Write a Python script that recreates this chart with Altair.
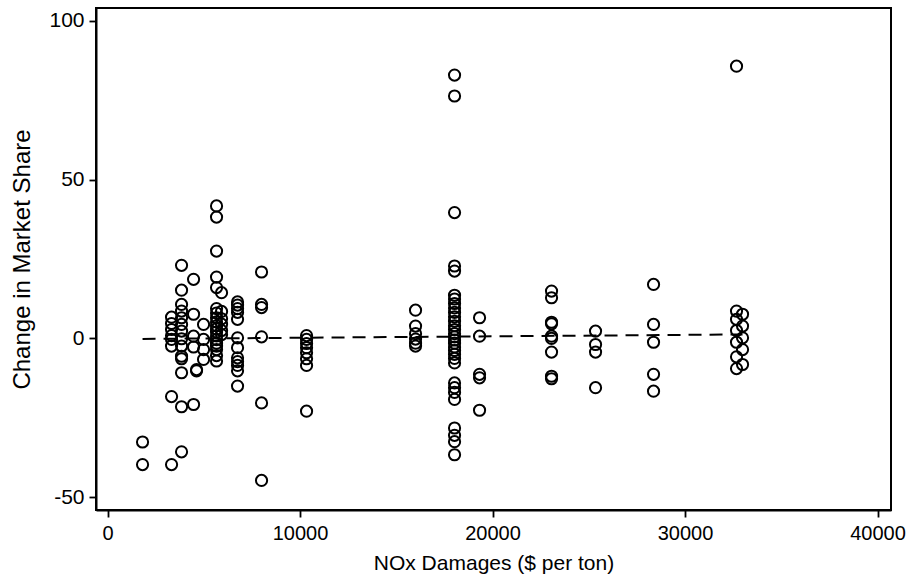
import altair as alt
import pandas as pd

# NOx damages ($ per ton) for each group of plants
damage_levels = [1818, 3325, 3844, 4468, 4623, 4987, 5662, 5922, 6753, 8000,
                 10338, 16000, 18026, 19325, 23065, 25351, 28364, 32675, 32987]

# Change in market share observed at each damage level
share_changes = [
    [-32.6, -39.7],
    [6.7, 4.7, 2.8, 0.9, -0.3, -2.4, -18.3, -39.7],
    [23.0, 15.2, 10.7, 8.6, 6.5, 4.4, 2.3, -0.1, -2.4, -5.6, -6.4, -10.8, -21.5, -35.7],
    [18.6, 7.6, 0.7, -2.7, -20.8],
    [-9.8, -10.2],
    [4.4, -0.3, -3.5, -6.6],
    [41.7, 38.2, 27.5, 19.3, 16.0, 9.4, 8.0, 6.5, 5.2, 4.0, 3.0, 2.0, 0.8, -0.4,
     -1.5, -2.4, -3.5, -5.4, -7.1],
    [14.4, 8.5, 6.2, 4.5, 2.5, 1.2],
    [11.5, 10.5, 9.4, 8.2, 6.0, 0.2, -2.9, -6.1, -7.3, -8.5, -10.2, -15.0],
    [20.9, 10.7, 9.7, 0.5, -20.3, -44.7],
    [0.9, -0.3, -1.6, -2.9, -4.5, -6.4, -8.5, -22.9],
    [8.9, 3.9, 1.5, -0.2, -1.5, -2.4],
    [82.9, 76.3, 39.6, 22.8, 21.2, 13.6, 12.4, 11.0, 9.6, 8.2, 6.8, 5.4, 4.0, 2.8,
     1.5, 0.5, -0.5, -1.5, -2.7, -3.8, -5.0, -6.3, -7.7, -14.0, -15.5, -17.0,
     -19.2, -28.2, -30.5, -32.5, -36.6],
    [6.5, 0.7, -11.3, -12.4, -22.6],
    [14.9, 12.8, 5.1, 4.6, 0.7, 0.0, -4.3, -11.9, -12.7],
    [2.3, -1.9, -4.3, -15.5],
    [17.0, 4.4, -1.2, -11.3, -16.6],
    [85.7, 8.6, 6.0, 2.5, -1.2, -5.8, -9.5],
    [7.6, 3.9, 0.2, -3.5, -8.2],
]

# Fitted linear trend (endpoints)
fit_x = [1818, 32987]
fit_y = [-0.15, 1.25]

points = pd.DataFrame(
    [(x, y) for x, ys in zip(damage_levels, share_changes) for y in ys],
    columns=["damages", "share"],
)
fit = pd.DataFrame({"damages": fit_x, "share": fit_y})

FONT = "Liberation Sans"
# plain hyphen for negative tick labels
PLAIN = "datum.value < 0 ? '-' + abs(datum.value) : '' + datum.value"

x_scale = alt.Scale(domain=[-600, 40700], nice=False, zero=False)
y_scale = alt.Scale(domain=[-54, 104], nice=False, zero=False)

x_axis = alt.Axis(
    title="NOx Damages ($ per ton)", values=[0, 10000, 20000, 30000, 40000],
    labelExpr=PLAIN, grid=False, tickSize=7, labelPadding=6, titlePadding=9,
    titleFontSize=21, labelFontSize=20,
)
y_axis = alt.Axis(
    title="Change in Market Share", values=[-50, 0, 50, 100],
    labelExpr=PLAIN, grid=False, tickSize=7, labelPadding=5, titlePadding=14,
    titleFontSize=24, labelFontSize=21,
)

scatter = alt.Chart(points).mark_point(
    shape="circle", filled=False, color="black", size=125, strokeWidth=2, opacity=1
).encode(
    x=alt.X("damages:Q", scale=x_scale, axis=x_axis),
    y=alt.Y("share:Q", scale=y_scale, axis=y_axis),
)

trend = alt.Chart(fit).mark_line(
    color="black", strokeWidth=2, strokeDash=[13, 8]
).encode(
    x=alt.X("damages:Q", scale=x_scale),
    y=alt.Y("share:Q", scale=y_scale),
)

chart = alt.layer(scatter, trend).properties(
    width=795, height=502,
    autosize=alt.AutoSizeParams(type="none"),
    padding={"left": 96, "top": 8, "right": 19, "bottom": 70},
    background="white",
).configure_view(
    stroke="black", strokeWidth=2
).configure_axis(
    domainColor="black", domainWidth=2, tickColor="black", tickWidth=1.8,
    labelColor="black", titleColor="black",
    labelFont=FONT, titleFont=FONT,
    titleFontWeight="normal",
)

chart.save("out.html", embed_options={"renderer": "svg", "actions": False})
